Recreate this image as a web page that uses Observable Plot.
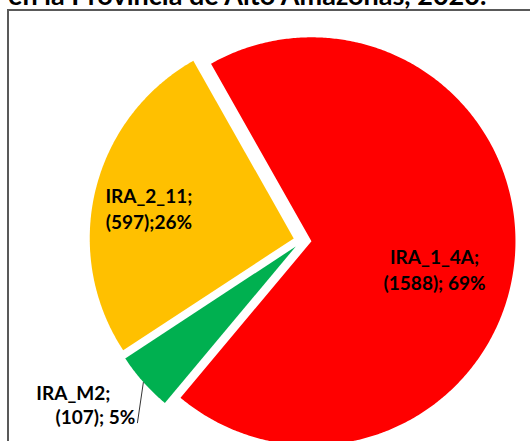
<!DOCTYPE html>
<html>
<head>
<meta charset="utf-8">
<script src="https://cdn.jsdelivr.net/npm/d3@7"></script>
<script src="https://cdn.jsdelivr.net/npm/@observablehq/plot@0.6"></script>
<style>
  html, body { margin: 0; padding: 0; background: #fff; }
  body { width: 530px; height: 441px; overflow: hidden; position: relative; font-family: Lato, "Open Sans", sans-serif; }
  #title { position: absolute; left: 8px; top: -19px; font-size: 27px; line-height: 27px; font-weight: bold; color: #000; white-space: nowrap; }
  #frame { position: absolute; left: 7px; top: 9px; width: 700px; height: 700px; border-top: 2px solid #595959; border-left: 2px solid #595959; }
  #chart { position: absolute; left: 0; top: 0; }
</style>
</head>
<body>
<div id="title">en la Provincia de Alto Amazonas, 2020.</div>
<div id="frame"></div>
<div id="chart"></div>
<script>
// ---- data (clockwise order as drawn) ----
const categories = ["IRA_1_4A", "IRA_M2", "IRA_2_11"];
const values = [1588, 107, 597];
const labelLine1 = ["IRA_1_4A;", "IRA_M2;", "IRA_2_11;"];
const labelLine2 = ["(1588); 69%", "(107); 5%", "(597);26%"];
const colors = ["#FF0000", "#00B050", "#FFC000"];

// ---- layout constants ----
const W = 530, H = 441;
const R = 204;               // pie radius (px)
const explode = 9;           // explosion offset (px)
const firstAngle = -29.5 * Math.PI / 180;

const rows = categories.map((c, i) => ({cat: c, value: values[i], l1: labelLine1[i], l2: labelLine2[i]}));
const arcs = d3.pie().sort(null).value(d => d.value)
  .startAngle(firstAngle).endAngle(firstAngle + 2 * Math.PI)(rows);

// polygon points for each slice (in px relative to pie centre, y downwards)
const pts = [];
arcs.forEach(a => {
  const mid = (a.startAngle + a.endAngle) / 2;
  const ox = explode * Math.sin(mid), oy = -explode * Math.cos(mid);
  pts.push({cat: a.data.cat, x: ox, y: oy});
  const n = Math.max(2, Math.ceil((a.endAngle - a.startAngle) / (0.5 * Math.PI / 180)));
  for (let k = 0; k <= n; k++) {
    const t = a.startAngle + (a.endAngle - a.startAngle) * k / n;
    pts.push({cat: a.data.cat, x: ox + R * Math.sin(t), y: oy - R * Math.cos(t)});
  }
  pts.push({cat: a.data.cat, x: ox, y: oy});
});

// label placement
const nudge = {IRA_1_4A: [-11, 17], IRA_2_11: [-14, 3]};
const inside = [], outside = [], leader = [];
arcs.forEach(a => {
  const mid = (a.startAngle + a.endAngle) / 2;
  const sx = Math.sin(mid), sy = -Math.cos(mid);
  const ox = explode * sx, oy = explode * sy;
  if (a.data.cat === "IRA_M2") {
    const px = ox + R * sx, py = oy + R * sy;
    const ex = px - 6, ey = py + 41;
    leader.push({x1: px, y1: py, x2: ex, y2: ey});
    outside.push({x: ex - 2, y: ey - 5, t: a.data.l2});
    outside.push({x: ex - 27, y: ey - 29, t: a.data.l1});
  } else {
    const k = 0.66 * R;
    const [nx, ny] = nudge[a.data.cat];
    const cx = ox + k * sx + nx, cy = oy + k * sy + ny;
    inside.push({x: cx, y: cy - 13, t: a.data.l1});
    inside.push({x: cx, y: cy + 13, t: a.data.l2});
  }
});

const font = {fontFamily: "Lato, 'Open Sans', sans-serif", fontWeight: "bold", fontSize: 19, fill: "#000"};

const chart = Plot.plot({
  width: W, height: H, margin: 0,
  x: {domain: [-302, W - 302], range: [0, W], axis: null},
  y: {domain: [-240, H - 240], range: [0, H], axis: null},
  color: {domain: categories, range: colors},
  style: {background: "transparent", overflow: "visible"},
  marks: [
    Plot.line(pts, {x: "x", y: "y", z: "cat", fill: "cat", stroke: "none", curve: "linear"}),
    Plot.link(leader, {x1: "x1", y1: "y1", x2: "x2", y2: "y2", stroke: "#000", strokeWidth: 0.8}),
    Plot.text(inside, {x: "x", y: "y", text: "t", textAnchor: "middle", lineAnchor: "middle", ...font}),
    Plot.text(outside, {x: "x", y: "y", text: "t", textAnchor: "end", lineAnchor: "middle", ...font})
  ]
});
document.getElementById("chart").appendChild(chart);
</script>
</body>
</html>
